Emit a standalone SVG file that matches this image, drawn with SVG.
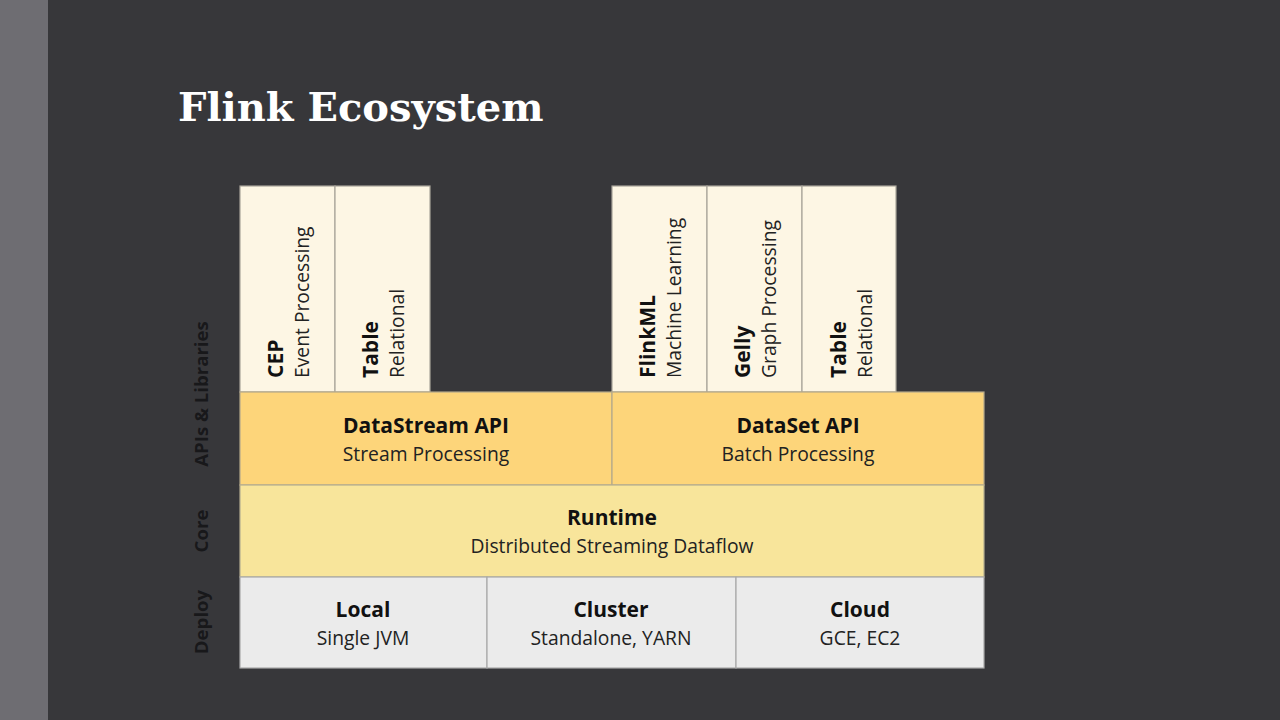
<svg xmlns="http://www.w3.org/2000/svg" width="1280" height="720" viewBox="0 0 1280 720">
<defs>
<style>
.lib{fill:#fdf6e4;stroke:#a9a59a;stroke-width:1.2}
.api{fill:#fdd57a;stroke:#b5a98a;stroke-width:1.2}
.core{fill:#f8e59b;stroke:#b5ad90;stroke-width:1.2}
.dep{fill:#ebebeb;stroke:#a9a9a9;stroke-width:1.2}
.b{font-family:"Open Sans","Noto Sans",sans-serif;font-weight:bold;font-size:21px;fill:#111}
.s{font-family:"Open Sans","Noto Sans",sans-serif;font-size:19.3px;fill:#222}
.side{font-family:"Open Sans","Noto Sans",sans-serif;font-weight:bold;font-size:18.6px;fill:#18181a}
.title{font-family:"DejaVu Serif","Liberation Serif",serif;font-weight:bold;font-size:40px;fill:#ffffff}
</style>
</defs>
<rect x="0" y="0" width="1280" height="720" fill="#37373a"/>
<rect x="0" y="0" width="48" height="720" fill="#6e6d72"/>
<text class="title" x="178" y="121">Flink Ecosystem</text>

<g id="side-labels">
<text class="side" transform="translate(208,394) rotate(-90)" text-anchor="middle">APIs &amp; Libraries</text>
<text class="side" transform="translate(208,531) rotate(-90)" text-anchor="middle">Core</text>
<text class="side" transform="translate(208,622) rotate(-90)" text-anchor="middle">Deploy</text>
</g>

<g id="cep"><rect class="lib" x="240" y="186" width="95" height="206"/>
<text class="b" transform="translate(283,378) rotate(-90)">CEP</text>
<text class="s" transform="translate(309,378) rotate(-90)">Event Processing</text></g>
<g id="table-stream"><rect class="lib" x="335" y="186" width="95" height="206"/>
<text class="b" transform="translate(378,378) rotate(-90)">Table</text>
<text class="s" transform="translate(404,378) rotate(-90)">Relational</text></g>
<g id="flinkml"><rect class="lib" x="612" y="186" width="95" height="206"/>
<text class="b" transform="translate(655,378) rotate(-90)">FlinkML</text>
<text class="s" transform="translate(681,378) rotate(-90)">Machine Learning</text></g>
<g id="gelly"><rect class="lib" x="707" y="186" width="95" height="206"/>
<text class="b" transform="translate(750,378) rotate(-90)">Gelly</text>
<text class="s" transform="translate(776,378) rotate(-90)">Graph Processing</text></g>
<g id="table-batch"><rect class="lib" x="802" y="186" width="94" height="206"/>
<text class="b" transform="translate(846,378) rotate(-90)">Table</text>
<text class="s" transform="translate(872,378) rotate(-90)">Relational</text></g>

<g id="datastream"><rect class="api" x="240" y="392" width="372" height="93"/>
<text class="b" x="426" y="433" text-anchor="middle">DataStream API</text>
<text class="s" x="426" y="461" text-anchor="middle">Stream Processing</text></g>
<g id="dataset"><rect class="api" x="612" y="392" width="372" height="93"/>
<text class="b" x="798" y="433" text-anchor="middle">DataSet API</text>
<text class="s" x="798" y="461" text-anchor="middle">Batch Processing</text></g>

<g id="runtime"><rect class="core" x="240" y="485" width="744" height="92"/>
<text class="b" x="612" y="525" text-anchor="middle">Runtime</text>
<text class="s" x="612" y="553" text-anchor="middle">Distributed Streaming Dataflow</text></g>

<g id="local"><rect class="dep" x="240" y="577" width="247" height="91"/>
<text class="b" x="363" y="617" text-anchor="middle">Local</text>
<text class="s" x="363" y="645" text-anchor="middle">Single JVM</text></g>
<g id="cluster"><rect class="dep" x="487" y="577" width="249" height="91"/>
<text class="b" x="611" y="617" text-anchor="middle">Cluster</text>
<text class="s" x="611" y="645" text-anchor="middle">Standalone, YARN</text></g>
<g id="cloud"><rect class="dep" x="736" y="577" width="248" height="91"/>
<text class="b" x="860" y="617" text-anchor="middle">Cloud</text>
<text class="s" x="860" y="645" text-anchor="middle">GCE, EC2</text></g>

<g id="connectors"/>
</svg>
